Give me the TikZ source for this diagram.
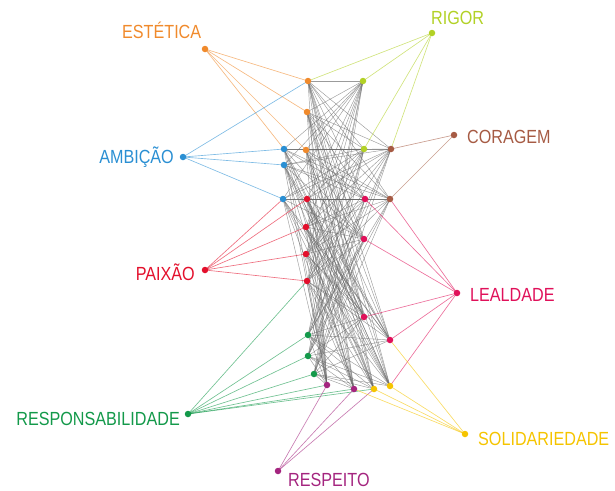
\documentclass[tikz,border=0pt]{standalone}
\usepackage{fontspec}
\setmainfont{Liberation Sans}[FakeStretch=0.85]
\definecolor{cOr}{HTML}{F08A2C}
\definecolor{cLi}{HTML}{B2D126}
\definecolor{cBl}{HTML}{2A8FD3}
\definecolor{cBr}{HTML}{A65B44}
\definecolor{cRe}{HTML}{E3102C}
\definecolor{cCr}{HTML}{E0115A}
\definecolor{cGr}{HTML}{13994A}
\definecolor{cYe}{HTML}{F5C400}
\definecolor{cMa}{HTML}{A4257F}
\pgfdeclarelayer{background}
\pgfsetlayers{background,main}
\begin{document}
\begin{tikzpicture}[x=1pt,y=-1pt,
  dot/.style={circle,fill=#1,draw=none,inner sep=0pt,minimum size=6.5pt},
  lbl/.style={text=#1,inner sep=0pt,font=\fontsize{19}{22}\selectfont},
  ol/.style={draw=#1,line width=0.65pt,opacity=0.6},
  gl/.style={draw=black!60,line width=0.45pt,opacity=0.65}]
\useasboundingbox (0,0) rectangle (615,490);
% outer nodes
\node[dot=cOr] (est) at (205,49) {};
\node[dot=cLi] (rig) at (432,33) {};
\node[dot=cBl] (amb) at (183,157) {};
\node[dot=cBr] (cor) at (454,135) {};
\node[dot=cRe] (pai) at (205,270) {};
\node[dot=cCr] (lea) at (457,293) {};
\node[dot=cGr] (res) at (188,414) {};
\node[dot=cYe] (sol) at (465,434) {};
\node[dot=cMa] (rsp) at (278,471) {};
% labels
\node[lbl=cOr,anchor=base west] (tEst) at (122,38) {ESTÉTICA};
\node[lbl=cLi,anchor=base west] (tRig) at (431,24) {RIGOR};
\node[lbl=cBl,anchor=base east] (tAmb) at (174,163) {AMBIÇÃO};
\node[lbl=cBr,anchor=base west] (tCor) at (467,143) {CORAGEM};
\node[lbl=cRe,anchor=base east] (tPai) at (195,280) {PAIXÃO};
\node[lbl=cCr,anchor=base west] (tLea) at (470,301) {LEALDADE};
\node[lbl=cGr,anchor=base east] (tRes) at (180,425) {RESPONSABILIDADE};
\node[lbl=cYe,anchor=base west] (tSol) at (478,445) {SOLIDARIEDADE};
\node[lbl=cMa,anchor=base west] (tRsp) at (288,486) {RESPEITO};
% inner nodes
\node[dot=cOr] (o1) at (308,81) {};
\node[dot=cOr] (o2) at (307,112) {};
\node[dot=cOr] (o3) at (306,150) {};
\node[dot=cBl] (b1) at (284,149) {};
\node[dot=cBl] (b2) at (284,165) {};
\node[dot=cBl] (b3) at (283,199) {};
\node[dot=cRe] (r1) at (307,199) {};
\node[dot=cRe] (r2) at (306,227) {};
\node[dot=cRe] (r3) at (306,254) {};
\node[dot=cRe] (r4) at (307,281) {};
\node[dot=cGr] (g1) at (308,335) {};
\node[dot=cGr] (g2) at (308,356) {};
\node[dot=cGr] (g3) at (314,374) {};
\node[dot=cLi] (l1) at (363,81) {};
\node[dot=cLi] (l2) at (364,149) {};
\node[dot=cBr] (w1) at (391,149) {};
\node[dot=cBr] (w2) at (390,199) {};
\node[dot=cCr] (c1) at (365,199) {};
\node[dot=cCr] (c2) at (364,239) {};
\node[dot=cCr] (c3) at (364,317) {};
\node[dot=cCr] (c4) at (390,340) {};
\node[dot=cYe] (y1) at (374,389) {};
\node[dot=cYe] (y2) at (390,386) {};
\node[dot=cMa] (m1) at (327,385) {};
\node[dot=cMa] (m2) at (354,389) {};
\begin{pgfonlayer}{background}
\foreach \a in {o1,o2,o3,b1,b2,b3,r1,r2,r3,r4,g1,g2,g3}
  \foreach \b in {l1,l2,w1,w2,c1,c2,c3,c4,y1,y2,m1,m2}
    \draw[gl] (\a.center) -- (\b.center);
\foreach \b in {o1,o2,o3,b1} \draw[ol=cOr] (est.center) -- (\b.center);
\foreach \b in {o1,b1,b2,b3} \draw[ol=cBl] (amb.center) -- (\b.center);
\foreach \b in {o1,l1,l2,w1} \draw[ol=cLi] (rig.center) -- (\b.center);
\foreach \b in {w1,w2} \draw[ol=cBr] (cor.center) -- (\b.center);
\foreach \b in {b3,r1,r2,r3,r4} \draw[ol=cRe] (pai.center) -- (\b.center);
\foreach \b in {c1,w2,c2,c3,c4,y2} \draw[ol=cCr] (lea.center) -- (\b.center);
\foreach \b in {r4,g1,g2,g3,m1,m2,y1} \draw[ol=cGr] (res.center) -- (\b.center);
\foreach \b in {m1,m2,y1} \draw[ol=cMa] (rsp.center) -- (\b.center);
\foreach \b in {c4,y2,y1,m2} \draw[ol=cYe] (sol.center) -- (\b.center);
\end{pgfonlayer}
\end{tikzpicture}
\end{document}
